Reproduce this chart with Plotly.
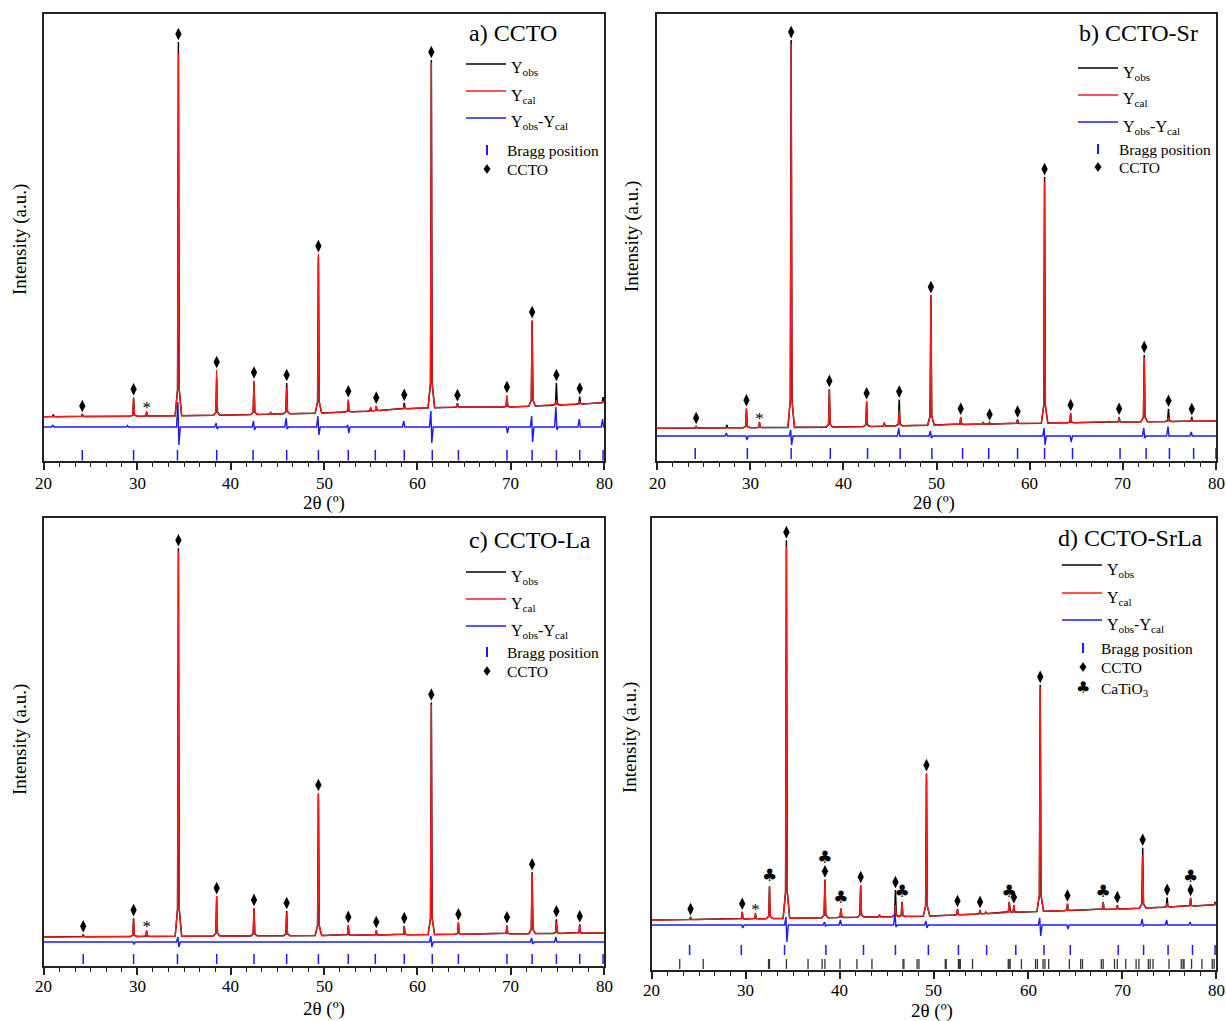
import numpy as np
import plotly.graph_objects as go

W, H = 1226, 1021

# ---------------------------------------------------------------------------
# Data (intensities in arbitrary units)
# ---------------------------------------------------------------------------

# a) CCTO
BG_A_X = [20, 30, 40, 50, 55, 60, 65, 70, 75, 80]
BG_A_Y = [443, 447, 460, 480, 500, 530, 540, 540, 560, 580]
PEAK_A = [21.0, 24.1, 29.6, 31.0, 34.4, 38.5, 42.5, 44.3, 46.0, 49.4, 52.6,
          55.0, 55.6, 58.6, 61.5, 64.3, 69.6, 72.3, 74.9, 77.4, 79.9]
OBS_A = [20, 25, 180, 40, 3738, 380, 330, 15, 308, 1560, 110,
         30, 45, 60, 3477, 40, 100, 850, 220, 75, 60]
CAL_A = [0, 20, 190, 50, 3625, 452, 340, 20, 268, 1590, 127,
         40, 50, 30, 3447, 40, 120, 860, 50, 30, 20]
DIFF_A_POS = [21.0, 29.0, 34.4, 38.5, 42.5, 46.0, 49.4, 52.6, 58.6, 61.5, 69.6, 72.3, 74.9, 77.4, 79.9]
DIFF_A_UP = [20, 15, 250, 40, 60, 90, 110, 20, 60, 160, 0, 110, 200, 80, 80]
DIFF_A_DN = [0, 0, -180, -20, -30, -20, -80, -60, 0, -160, -60, -150, -30, 0, 0]
BRAGG_A = [24.1, 29.6, 34.3, 38.5, 42.4, 46.0, 49.4, 52.6, 55.5, 58.6, 61.6,
           64.4, 69.6, 72.3, 74.9, 77.4, 79.9]
CCTO_MARK_A = [24.1, 29.6, 34.4, 38.5, 42.5, 46.0, 49.4, 52.6, 55.6, 58.6, 61.5,
               64.3, 69.6, 72.3, 74.9, 77.4]
STAR_A = [31.0]

# b) CCTO-Sr
BG_B_X = [20, 30, 40, 50, 60, 70, 80]
BG_B_Y = [327, 333, 340, 360, 377, 390, 400]
PEAK_B = [24.2, 27.5, 29.6, 31.0, 34.4, 38.5, 42.5, 44.4, 46.0, 49.4, 52.6,
          55.0, 55.7, 58.7, 61.6, 64.4, 69.6, 72.3, 74.9, 77.4]
OBS_B = [20, 30, 190, 50, 3873, 380, 250, 30, 262, 1300, 70,
         20, 15, 40, 2460, 95, 50, 667, 127, 43]
CAL_B = [15, 0, 194, 60, 3833, 382, 253, 40, 155, 1300, 78,
         25, 12, 40, 2410, 98, 53, 637, 43, 25]
DIFF_B_POS = [27.5, 29.6, 34.4, 46.0, 49.4, 61.6, 64.4, 72.3, 74.9, 77.4]
DIFF_B_UP = [30, 0, 60, 80, 50, 80, 0, 80, 95, 40]
DIFF_B_DN = [0, -40, -90, 0, -20, -90, -60, -20, 0, 0]
BRAGG_B = [24.1, 29.7, 34.4, 38.6, 42.6, 46.1, 49.5, 52.8, 55.6, 58.7, 61.6,
           64.6, 69.7, 72.5, 75.0, 77.6, 80.0]
CCTO_MARK_B = [24.2, 29.6, 34.4, 38.5, 42.5, 46.0, 49.4, 52.6, 55.7, 58.7, 61.6,
               64.4, 69.6, 72.3, 74.9, 77.4]
STAR_B = [31.0]

# c) CCTO-La
BG_C_X = [20, 50, 80]
BG_C_Y = [290, 305, 330]
PEAK_C = [24.2, 29.6, 31.0, 34.4, 38.5, 42.5, 46.0, 49.4, 52.6, 55.6, 58.6,
          61.5, 64.4, 69.6, 72.3, 74.9, 77.4]
OBS_C = [26, 180, 55, 3880, 395, 275, 247, 1415, 100, 45, 88,
         2320, 118, 82, 614, 142, 90]
CAL_C = [22, 184, 63, 3850, 400, 280, 230, 1425, 104, 51, 80,
         2300, 121, 86, 600, 120, 80]
DIFF_C_POS = [29.6, 34.4, 61.5, 72.3, 74.9]
DIFF_C_UP = [0, 50, 60, 40, 50]
DIFF_C_DN = [-20, -50, -50, -20, 0]
BRAGG_C = [24.2, 29.6, 34.3, 38.5, 42.5, 46.0, 49.4, 52.6, 55.5, 58.6, 61.6,
           64.4, 69.6, 72.3, 74.9, 77.4, 79.9]
CCTO_MARK_C = [24.2, 29.6, 34.4, 38.5, 42.5, 46.0, 49.4, 52.6, 55.6, 58.6, 61.5,
               64.4, 69.6, 72.3, 74.9, 77.4]
STAR_C = [31.0]

# d) CCTO-SrLa
BG_D_X = [20, 30, 40, 50, 60, 70, 80]
BG_D_Y = [500, 510, 525, 540, 583, 610, 650]
PEAK_D = [24.1, 29.6, 31.0, 32.5, 34.3, 38.4, 40.1, 42.2, 44.2, 45.9, 46.6,
          49.2, 52.5, 54.9, 55.5, 58.0, 58.5, 61.3, 64.2, 68.0, 69.5, 72.2,
          74.8, 77.3, 79.9]
OBS_D = [25, 73, 50, 320, 3782, 380, 90, 318, 20, 265, 146,
         1420, 60, 40, 15, 105, 72, 2265, 70, 78, 40, 604,
         94, 82, 30]
CAL_D = [25, 70, 59, 325, 3720, 384, 93, 322, 20, 115, 140,
         1430, 55, 35, 15, 108, 68, 2240, 65, 75, 35, 534,
         40, 78, 20]
DIFF_D_POS = [29.6, 34.3, 38.4, 40.1, 45.9, 49.2, 61.3, 64.2, 72.2, 74.8, 77.3]
DIFF_D_UP = [0, 80, 30, 50, 120, 40, 70, 0, 60, 50, 30]
DIFF_D_DN = [-30, -170, -10, 0, -20, -30, -110, -40, -10, 0, 0]
BRAGG_D = [24.0, 29.5, 34.1, 38.5, 42.5, 45.9, 49.4, 52.6, 55.6, 58.7, 61.7,
           64.5, 69.6, 72.3, 74.9, 77.5, 79.9]
BRAGG_D_CATIO3 = [22.95, 25.45, 32.4, 32.5, 34.3, 36.6, 38.1, 38.4, 40.0, 41.8,
                  43.4, 46.7, 46.8, 48.2, 48.4, 51.2, 51.3, 52.6, 52.7, 52.8,
                  54.1, 57.9, 58.0, 58.1, 59.3, 60.8, 61.0, 61.6, 61.8, 62.2,
                  64.4, 65.6, 65.8, 67.8, 68.0, 69.2, 69.5, 70.4, 71.5, 71.8,
                  72.8, 73.0, 73.3, 75.0, 76.3, 76.5, 76.6, 77.4, 78.5, 79.6, 79.8]
CCTO_MARK_D = [24.1, 29.6, 34.3, 38.4, 42.2, 45.9, 49.2, 52.5, 54.9, 58.5, 61.3,
               64.2, 69.5, 72.2, 74.8, 77.3]
CATIO3_MARK_D = [32.5, 38.4, 40.1, 46.6, 58.0, 68.0, 77.3]
STAR_D = [31.0]

X_TICKS = [20, 30, 40, 50, 60, 70, 80]
X_TICK_LABELS = ["20", "30", "40", "50", "60", "70", "80"]

# ---------------------------------------------------------------------------
# Styling
# ---------------------------------------------------------------------------
SERIF = "Liberation Serif"
RED = "#ff1a1a"
BLUE = "#1a1aff"
FRAME = "#222222"

PROFILE_DX = np.array([-0.35, -0.09, 0.0, 0.09, 0.35])
PROFILE_FR = np.array([0.0, 0.07, 1.0, 0.07, 0.0])


def fx(p):
    return p / W


def fy(p):
    return 1 - p / H


def pattern(pos, heights, bg_x, bg_y):
    """Piecewise-linear diffractogram: background plus one profile per reflection."""
    xs = np.concatenate([np.asarray(bg_x, float)] + [p + PROFILE_DX for p in pos])
    xs = np.unique(np.clip(xs, 20, 80))
    ys = np.interp(xs, bg_x, bg_y)
    for p, h in zip(pos, heights):
        ys = ys + h * np.interp(xs, p + PROFILE_DX, PROFILE_FR, left=0, right=0)
    return xs, ys


def difference(pos, up, dn, base):
    xs, ys = [20.0], [base]
    for p, u, d in sorted(zip(pos, up, dn)):
        xs += [p - 0.2, p - 0.05, p + 0.05, p + 0.2]
        ys += [base, base + u, base + d, base]
    xs.append(80.0)
    ys.append(base)
    return xs, ys


def ticks(pos, y0, y1):
    xs, ys = [], []
    for p in pos:
        xs += [p, p, None]
        ys += [y0, y1, None]
    return xs, ys


panels = [
    dict(name="a) CCTO", dom_x=(44, 604), dom_y=(14, 461),
         bg=(BG_A_X, BG_A_Y), pos=PEAK_A, obs=OBS_A, cal=CAL_A,
         diff=(DIFF_A_POS, DIFF_A_UP, DIFF_A_DN), diff_base=340,
         bragg=BRAGG_A, bragg_y=(5, 110), ccto=CCTO_MARK_A, star=STAR_A,
         leg=dict(title=(467, 33), line=(466, 506), text=509, rows=(64, 91, 118),
                  sym=487, stext=505, bragg=150, ccto=169),
         ytitle=(20, 240), xtitle=(324, 503), ticklab_y=483),
    dict(name="b) CCTO-Sr", dom_x=(657, 1216), dom_y=(14, 461),
         bg=(BG_B_X, BG_B_Y), pos=PEAK_B, obs=OBS_B, cal=CAL_B,
         diff=(DIFF_B_POS, DIFF_B_UP, DIFF_B_DN), diff_base=250,
         bragg=BRAGG_B, bragg_y=(20, 130), ccto=CCTO_MARK_B, star=STAR_B,
         leg=dict(title=(1077, 33), line=(1078, 1118), text=1121, rows=(68, 95, 122),
                  sym=1098, stext=1117, bragg=149, ccto=167),
         ytitle=(632, 237), xtitle=(934, 503), ticklab_y=483),
    dict(name="c) CCTO-La", dom_x=(44, 604), dom_y=(518, 966),
         bg=(BG_C_X, BG_C_Y), pos=PEAK_C, obs=OBS_C, cal=CAL_C,
         diff=(DIFF_C_POS, DIFF_C_UP, DIFF_C_DN), diff_base=240,
         bragg=BRAGG_C, bragg_y=(20, 120), ccto=CCTO_MARK_C, star=STAR_C,
         leg=dict(title=(467, 540), line=(466, 506), text=509, rows=(572, 599, 626),
                  sym=487, stext=505, bragg=652, ccto=671),
         ytitle=(20, 740), xtitle=(324, 1009), ticklab_y=986),
    dict(name="d) CCTO-SrLa", dom_x=(652, 1216), dom_y=(518, 970),
         bg=(BG_D_X, BG_D_Y), pos=PEAK_D, obs=OBS_D, cal=CAL_D,
         diff=(DIFF_D_POS, DIFF_D_UP, DIFF_D_DN), diff_base=450,
         bragg=BRAGG_D, bragg_y=(150, 250), ccto=CCTO_MARK_D, star=STAR_D,
         catio3=CATIO3_MARK_D, bragg2=BRAGG_D_CATIO3, bragg2_y=(10, 110),
         leg=dict(title=(1056, 538), line=(1062, 1102), text=1105, rows=(565, 593, 620),
                  sym=1083, stext=1099, bragg=648, ccto=667, catio3=687),
         ytitle=(630, 738), xtitle=(932, 1011), ticklab_y=990),
]

fig = go.Figure()
layout = dict(width=W, height=H, margin=dict(l=0, r=0, t=0, b=0),
              paper_bgcolor="white", plot_bgcolor="white", showlegend=False)
shapes, annotations = [], []

for i, pn in enumerate(panels, start=1):
    sx = "" if i == 1 else str(i)
    xa, ya = "x" + sx, "y" + sx
    x0, x1 = pn["dom_x"]
    t0, t1 = pn["dom_y"]
    ymax = (t1 - t0) * 10

    layout["xaxis" + sx] = dict(
        domain=[fx(x0), fx(x1)], anchor=ya, range=[20, 80],
        showline=True, linecolor=FRAME, linewidth=1.5, mirror=True,
        ticks="outside", ticklen=7, tickwidth=1.5, tickcolor=FRAME,
        tickvals=X_TICKS, showticklabels=False,
        minor=dict(dtick=10 / 6, tick0=20, ticks="outside", ticklen=4,
                   tickwidth=1.2, tickcolor=FRAME, showgrid=False),
        showgrid=False, zeroline=False)
    layout["yaxis" + sx] = dict(
        domain=[fy(t1), fy(t0)], anchor=xa, range=[0, ymax],
        showline=True, linecolor=FRAME, linewidth=1.5, mirror=True,
        ticks="", showticklabels=False, showgrid=False, zeroline=False)

    # Tick labels placed just under the tick marks
    for tv, tl in zip(X_TICKS, X_TICK_LABELS):
        annotations.append(dict(x=tv, y=fy(pn["ticklab_y"]), xref=xa, yref="paper",
                                text=tl, showarrow=False, xanchor="center", yanchor="middle",
                                font=dict(family=SERIF, size=17, color="black")))

    bx, by = pn["bg"]
    ox, oy = pattern(pn["pos"], pn["obs"], bx, by)
    cx, cy = pattern(pn["pos"], pn["cal"], bx, by)
    dx, dy = difference(*pn["diff"], pn["diff_base"])

    fig.add_trace(go.Scatter(x=ox, y=oy, mode="lines", line=dict(color="black", width=1.5),
                             xaxis=xa, yaxis=ya, name="Yobs"))
    fig.add_trace(go.Scatter(x=cx, y=cy, mode="lines", line=dict(color=RED, width=1.3),
                             xaxis=xa, yaxis=ya, name="Ycal"))
    fig.add_trace(go.Scatter(x=dx, y=dy, mode="lines", line=dict(color=BLUE, width=1.4),
                             xaxis=xa, yaxis=ya, name="Yobs-Ycal"))

    tx, ty = ticks(pn["bragg"], *pn["bragg_y"])
    fig.add_trace(go.Scatter(x=tx, y=ty, mode="lines", line=dict(color=BLUE, width=1.5),
                             xaxis=xa, yaxis=ya, name="Bragg position"))
    if "bragg2" in pn:
        tx, ty = ticks(pn["bragg2"], *pn["bragg2_y"])
        fig.add_trace(go.Scatter(x=tx, y=ty, mode="lines", line=dict(color="#333333", width=1.3),
                                 xaxis=xa, yaxis=ya, name="CaTiO3 position"))

    def top(p):
        return max(np.interp(p, ox, oy), np.interp(p, cx, cy))

    club_set = set(pn.get("catio3", []))
    dm_x = pn["ccto"]
    dm_y = [top(p) + 80 for p in dm_x]
    fig.add_trace(go.Scatter(x=dm_x, y=dm_y, mode="markers",
                             marker=dict(symbol="diamond-tall", size=9, color="black"),
                             xaxis=xa, yaxis=ya, name="CCTO", cliponaxis=False))
    if club_set:
        cl_x = pn["catio3"]
        cl_y = [top(p) + (205 if p in dm_x else 90) for p in cl_x]
        fig.add_trace(go.Scatter(x=cl_x, y=cl_y, mode="text", text=["♣"] * len(cl_x),
                                 textposition="middle center",
                                 textfont=dict(family="DejaVu Sans", size=17, color="black"),
                                 xaxis=xa, yaxis=ya, name="CaTiO3"))
    st_y = [top(p) + 20 for p in pn["star"]]
    fig.add_trace(go.Scatter(x=pn["star"], y=st_y, mode="text", text=["*"] * len(st_y),
                             textposition="middle center",
                             textfont=dict(family=SERIF, size=17, color="black"),
                             xaxis=xa, yaxis=ya, name="impurity"))

    # Legend block
    lg = pn["leg"]
    annotations.append(dict(x=fx(lg["title"][0]), y=fy(lg["title"][1]), xref="paper", yref="paper",
                            text=pn["name"], showarrow=False, xanchor="left", yanchor="middle",
                            font=dict(family=SERIF, size=24, color="black")))
    labels = ["Y<sub>obs</sub>", "Y<sub>cal</sub>", "Y<sub>obs</sub>-Y<sub>cal</sub>"]
    colors = ["black", RED, BLUE]
    for lab, col, ry in zip(labels, colors, lg["rows"]):
        shapes.append(dict(type="line", xref="paper", yref="paper",
                           x0=fx(lg["line"][0]), x1=fx(lg["line"][1]), y0=fy(ry), y1=fy(ry),
                           line=dict(color=col, width=1.5)))
        annotations.append(dict(x=fx(lg["text"]), y=fy(ry + 5), xref="paper", yref="paper",
                                text=lab, showarrow=False, xanchor="left", yanchor="middle",
                                font=dict(family=SERIF, size=16, color="black")))
    shapes.append(dict(type="line", xref="paper", yref="paper",
                       x0=fx(lg["sym"]), x1=fx(lg["sym"]),
                       y0=fy(lg["bragg"] - 5), y1=fy(lg["bragg"] + 5),
                       line=dict(color=BLUE, width=2)))
    annotations.append(dict(x=fx(lg["stext"]), y=fy(lg["bragg"]), xref="paper", yref="paper",
                            text="Bragg position", showarrow=False, xanchor="left", yanchor="middle",
                            font=dict(family=SERIF, size=15.5, color="black")))
    cxp, cyp = lg["sym"], lg["ccto"]
    shapes.append(dict(type="path", xref="paper", yref="paper",
                       path=f"M {fx(cxp)},{fy(cyp - 4.5)} L {fx(cxp + 3.2)},{fy(cyp)} "
                            f"L {fx(cxp)},{fy(cyp + 4.5)} L {fx(cxp - 3.2)},{fy(cyp)} Z",
                       fillcolor="black", line=dict(color="black", width=0.5)))
    annotations.append(dict(x=fx(lg["stext"]), y=fy(cyp), xref="paper", yref="paper",
                            text="CCTO", showarrow=False, xanchor="left", yanchor="middle",
                            font=dict(family=SERIF, size=15.5, color="black")))
    if "catio3" in lg:
        annotations.append(dict(x=fx(lg["sym"]), y=fy(lg["catio3"]), xref="paper", yref="paper",
                                text="♣", showarrow=False, xanchor="center", yanchor="middle",
                                font=dict(family="DejaVu Sans", size=16, color="black")))
        annotations.append(dict(x=fx(lg["stext"]), y=fy(lg["catio3"] + 2), xref="paper", yref="paper",
                                text="CaTiO<sub>3</sub>", showarrow=False, xanchor="left",
                                yanchor="middle", font=dict(family=SERIF, size=15.5, color="black")))

    # Axis titles
    annotations.append(dict(x=fx(pn["ytitle"][0]), y=fy(pn["ytitle"][1]), xref="paper", yref="paper",
                            text="Intensity (a.u.)", textangle=-90, showarrow=False,
                            xanchor="center", yanchor="middle",
                            font=dict(family=SERIF, size=19, color="black")))
    annotations.append(dict(x=fx(pn["xtitle"][0]), y=fy(pn["xtitle"][1]), xref="paper", yref="paper",
                            text="2θ (º)", showarrow=False, xanchor="center", yanchor="middle",
                            font=dict(family=SERIF, size=19, color="black")))

layout["shapes"] = shapes
layout["annotations"] = annotations
fig.update_layout(**layout)
fig.write_html("out.html")
